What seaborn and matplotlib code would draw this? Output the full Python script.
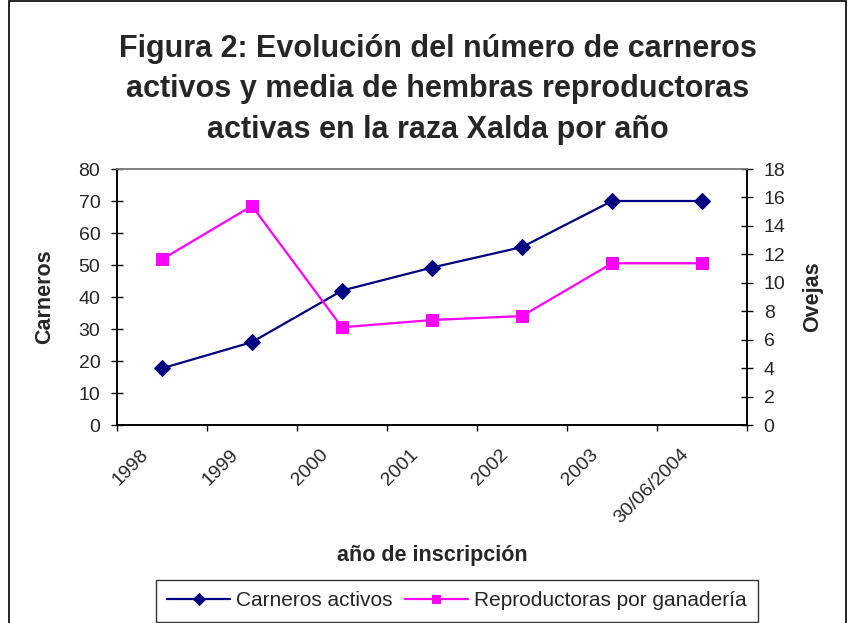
import numpy as np
import pandas as pd
import seaborn as sns
import matplotlib.pyplot as plt
import matplotlib.transforms as mtransforms
from matplotlib.patches import Rectangle

anios = ['1998', '1999', '2000', '2001', '2002', '2003', '30/06/2004']
carneros = [17.7, 25.9, 42.0, 49.2, 55.6, 70.0, 70.0]
reproductoras = [11.65, 15.4, 6.87, 7.38, 7.66, 11.37, 11.37]

df = pd.DataFrame({'anio': anios,
                   'pos': np.arange(len(anios)),
                   'carneros': carneros,
                   'reproductoras': reproductoras})

sns.set_style('white')
plt.rcParams.update({'font.family': ['Liberation Sans', 'DejaVu Sans'],
                     'figure.dpi': 100})

fig = plt.figure(figsize=(8.54, 6.23))
ax = fig.add_axes([117/854, 1 - 425/623, 630/854, 256/623])
ax2 = ax.twinx()

sns.lineplot(data=df, x='pos', y='carneros', ax=ax, color='#000080', lw=1.6,
             marker='D', markersize=8, markeredgecolor='#000080',
             label='Carneros activos', legend=False)
sns.lineplot(data=df, x='pos', y='reproductoras', ax=ax2, color='#FF00FF', lw=1.6,
             marker='s', markersize=8.5, markeredgecolor='#FF00FF',
             label='Reproductoras por ganadería', legend=False)

# eje x tipo Excel: marcas entre categorias
ax.set_xlim(-0.5, len(anios) - 0.5)
ax.set_xticks(np.arange(-0.5, len(anios)))
ax.set_xticklabels([])
ax.set_xticks(df['pos'], minor=True)
ax.set_xticklabels(anios, minor=True, rotation=45, ha='right', va='top', fontsize=14)
ax.tick_params(axis='x', which='major', direction='out', length=4.5, width=1, color='black', bottom=True)
ax.tick_params(axis='x', which='minor', length=0, pad=15)
off = mtransforms.ScaledTranslation(-10/100, 0, fig.dpi_scale_trans)
for lab in ax.get_xticklabels(minor=True):
    lab.set_transform(lab.get_transform() + off)

ax.set_ylim(0, 80)
ax.set_yticks(np.arange(0, 81, 10))
ax2.set_ylim(0, 18)
ax2.set_yticks(np.arange(0, 19, 2))
ax.tick_params(axis='y', direction='inout', length=8, width=1, color='black', left=True, labelsize=14, pad=8)
ax2.tick_params(axis='y', direction='inout', length=8, width=1, color='black', right=True, labelsize=14, pad=8)

ax.set_xlabel('año de inscripción', fontsize=15.5, fontweight='bold')
ax.xaxis.set_label_coords(0.5, -(555 - 425) / 256)
ax.xaxis.label.set_va('center')
ax.set_ylabel('Carneros', fontsize=15.5, fontweight='bold')
ax.yaxis.set_label_coords((55 - 117) / 630, 0.5)
ax2.set_ylabel('Ovejas', fontsize=15.5, fontweight='bold')
ax2.yaxis.set_label_coords((802 - 117) / 630, 0.5)

for a in (ax, ax2):
    for s in ['left', 'right', 'bottom']:
        a.spines[s].set_color('black')
        a.spines[s].set_linewidth(1.2)
    a.spines['top'].set_color('#808080')
    a.spines['top'].set_linewidth(1.2)

fig.text(0.513, 1 - 34/623,
         'Figura 2: Evolución del número de carneros\nactivos y media de hembras reproductoras\nactivas en la raza Xalda por año',
         ha='center', va='top', fontsize=22, fontweight='bold', linespacing=1.45)

h1, l1 = ax.get_legend_handles_labels()
h2, l2 = ax2.get_legend_handles_labels()
leg = fig.legend(h1 + h2, l1 + l2, loc='center', bbox_to_anchor=(457/854, 1 - 601/623),
                 ncol=2, fontsize=15, frameon=True, fancybox=False, edgecolor='black',
                 handlelength=3.0, handletextpad=0.3, columnspacing=0.6,
                 borderpad=0.55, markerscale=0.75)
leg.get_frame().set_linewidth(1.0)

fig.patches.append(Rectangle((9/854, -0.02), (846 - 9)/854, 1 - 1/623 + 0.02,
                             transform=fig.transFigure, fill=False,
                             edgecolor='black', lw=1.2))

fig.savefig('out.png', dpi=100)
